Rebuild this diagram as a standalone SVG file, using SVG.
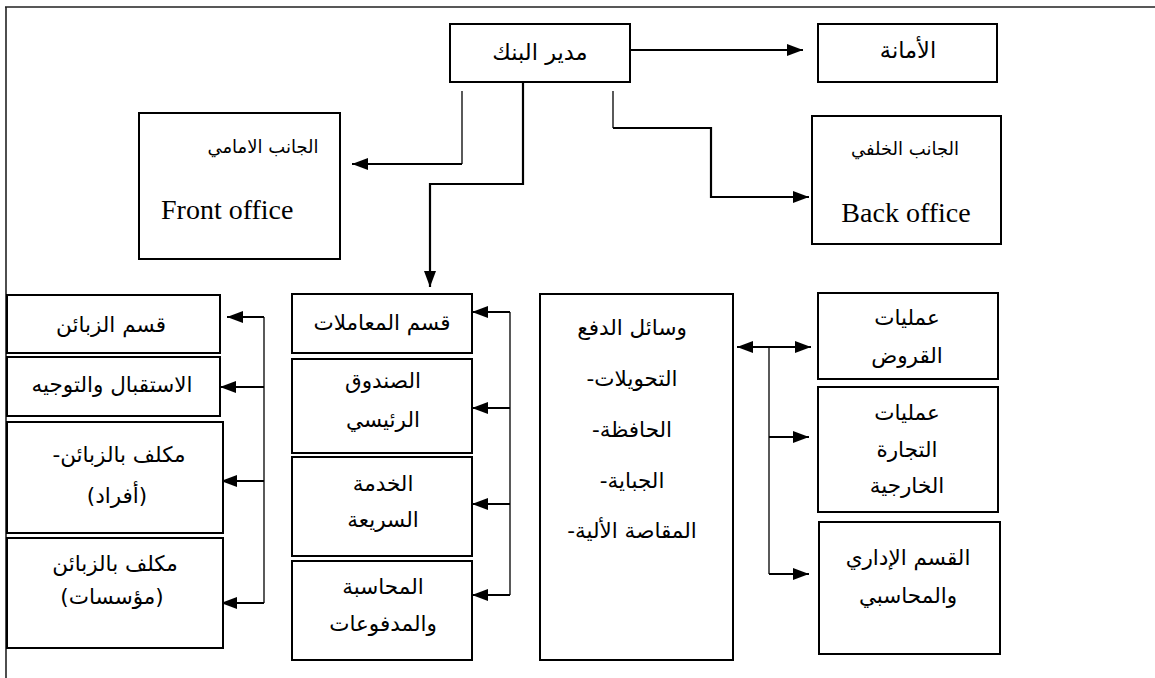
<svg xmlns="http://www.w3.org/2000/svg" width="1155" height="678" viewBox="0 0 1155 678">
  <style>
    .box { fill: #fff; stroke: #000; stroke-width: 2; }
    .frame { fill: none; stroke: #222; stroke-width: 1.6; }
    .shaft { fill: none; stroke: #000; stroke-width: 2.2; }
    .spine { fill: none; stroke: #000; stroke-width: 1.3; }
    .ar { font-family: "DejaVu Sans", "Liberation Sans", sans-serif; font-size: 21.5px; fill: #000; text-anchor: middle; }
    .ars { font-family: "DejaVu Serif", "DejaVu Sans", serif; fill: #000; text-anchor: middle; }
    .en { font-family: "Liberation Serif", "DejaVu Serif", serif; font-size: 28px; fill: #000; }
  </style>
  <defs>
    <marker id="head" markerUnits="userSpaceOnUse" markerWidth="17" markerHeight="13" refX="16" refY="6" orient="auto-start-reverse">
      <path d="M0,0 L16,6 L0,12 Z" fill="#000"/>
    </marker>
  </defs>

  <rect width="1155" height="678" fill="#fff"/>

  <!-- page frame: top rule and left rule -->
  <path class="frame" d="M5,7 H1155 M6,7 V678"/>

  <!-- connectors -->
  <g id="connectors">
    <!-- manager to secretariat -->
    <path class="shaft" d="M630,50 H803" marker-end="url(#head)"/>
    <!-- manager to front office -->
    <path class="spine" d="M462,91 V164"/>
    <path class="shaft" d="M462,164 H352" marker-end="url(#head)"/>
    <!-- manager down to transactions -->
    <path class="shaft" d="M523,82 V184 H430 V287" marker-end="url(#head)"/>
    <!-- manager to back office -->
    <path class="spine" d="M613,91 V128"/>
    <path class="shaft" d="M613,128 H711 V197 H809" marker-end="url(#head)"/>

    <!-- customers branch -->
    <path class="spine" d="M264,317 V603"/>
    <path class="shaft" d="M264,317 H227" marker-end="url(#head)"/>
    <path class="shaft" d="M264,387 H220" marker-end="url(#head)"/>
    <path class="shaft" d="M264,481 H221" marker-end="url(#head)"/>
    <path class="shaft" d="M264,603 H221" marker-end="url(#head)"/>

    <!-- transactions branch -->
    <path class="spine" d="M510,312 V595"/>
    <path class="shaft" d="M510,312 H472" marker-end="url(#head)"/>
    <path class="shaft" d="M510,408 H472" marker-end="url(#head)"/>
    <path class="shaft" d="M510,504 H472" marker-end="url(#head)"/>
    <path class="shaft" d="M510,595 H472" marker-end="url(#head)"/>

    <!-- payment means / operations branch -->
    <path class="shaft" d="M737,347 H811" marker-start="url(#head)" marker-end="url(#head)"/>
    <path class="spine" d="M769,347 V574"/>
    <path class="shaft" d="M769,437 H809" marker-end="url(#head)"/>
    <path class="shaft" d="M769,574 H809" marker-end="url(#head)"/>
  </g>

  <!-- top level -->
  <g id="manager">
    <rect class="box" x="450" y="24" width="180" height="58"/>
    <text class="ars" x="540" y="60" font-size="22.5">مدير البنك</text>
  </g>
  <g id="secretariat">
    <rect class="box" x="818" y="24" width="179" height="58"/>
    <text class="ars" x="908" y="58" font-size="22.5">الأمانة</text>
  </g>
  <g id="front-office">
    <rect class="box" x="139" y="113" width="201" height="146"/>
    <text class="ars" x="263" y="153" font-size="18">الجانب الامامي</text>
    <text class="en" x="161" y="219">Front office</text>
  </g>
  <g id="back-office">
    <rect class="box" x="812" y="116" width="189" height="128"/>
    <text class="ars" x="905" y="155" font-size="18">الجانب الخلفي</text>
    <text class="en" x="906" y="222" text-anchor="middle">Back office</text>
  </g>

  <!-- customers column -->
  <g id="customers">
    <rect class="box" x="7" y="295" width="213" height="58"/>
    <text class="ar" x="111" y="332">قسم الزبائن</text>
  </g>
  <g id="reception">
    <rect class="box" x="7" y="357" width="213" height="59"/>
    <text class="ar" x="112" y="392">الاستقبال والتوجيه</text>
  </g>
  <g id="individuals">
    <rect class="box" x="7" y="422" width="216" height="111"/>
    <text class="ar" x="119" y="462" direction="rtl">مكلف بالزبائن-</text>
    <text class="ar" x="117" y="503">(أفراد)</text>
  </g>
  <g id="companies">
    <rect class="box" x="7" y="538" width="216" height="110"/>
    <text class="ar" x="115" y="571">مكلف بالزبائن</text>
    <text class="ar" x="112" y="604">(مؤسسات)</text>
  </g>

  <!-- transactions column -->
  <g id="transactions">
    <rect class="box" x="292" y="294" width="180" height="59"/>
    <text class="ar" x="382" y="330">قسم المعاملات</text>
  </g>
  <g id="main-cash">
    <rect class="box" x="292" y="359" width="180" height="94"/>
    <text class="ar" x="383" y="388">الصندوق</text>
    <text class="ar" x="383" y="427">الرئيسي</text>
  </g>
  <g id="quick-service">
    <rect class="box" x="292" y="457" width="180" height="99"/>
    <text class="ar" x="383" y="491">الخدمة</text>
    <text class="ar" x="383" y="527">السريعة</text>
  </g>
  <g id="accounting-payments">
    <rect class="box" x="292" y="561" width="180" height="99"/>
    <text class="ar" x="383" y="594">المحاسبة</text>
    <text class="ar" x="383" y="631">والمدفوعات</text>
  </g>

  <!-- payment means -->
  <g id="payment-means">
    <rect class="box" x="540" y="294" width="193" height="366"/>
    <text class="ar" x="632" y="335">وسائل الدفع</text>
    <text class="ar" x="632" y="386" direction="rtl">التحويلات-</text>
    <text class="ar" x="632" y="437" direction="rtl">الحافظة-</text>
    <text class="ar" x="632" y="488" direction="rtl">الجباية-</text>
    <text class="ar" x="632" y="538" direction="rtl">المقاصة الألية-</text>
  </g>

  <!-- operations column -->
  <g id="loans">
    <rect class="box" x="818" y="293" width="180" height="86"/>
    <text class="ar" x="907" y="325">عمليات</text>
    <text class="ar" x="907" y="363">القروض</text>
  </g>
  <g id="foreign-trade">
    <rect class="box" x="818" y="387" width="180" height="125"/>
    <text class="ar" x="907" y="420">عمليات</text>
    <text class="ar" x="907" y="457">التجارة</text>
    <text class="ar" x="907" y="493">الخارجية</text>
  </g>
  <g id="admin-accounting">
    <rect class="box" x="819" y="522" width="181" height="132"/>
    <text class="ar" x="908" y="565">القسم الإداري</text>
    <text class="ar" x="908" y="603">والمحاسبي</text>
  </g>
</svg>
